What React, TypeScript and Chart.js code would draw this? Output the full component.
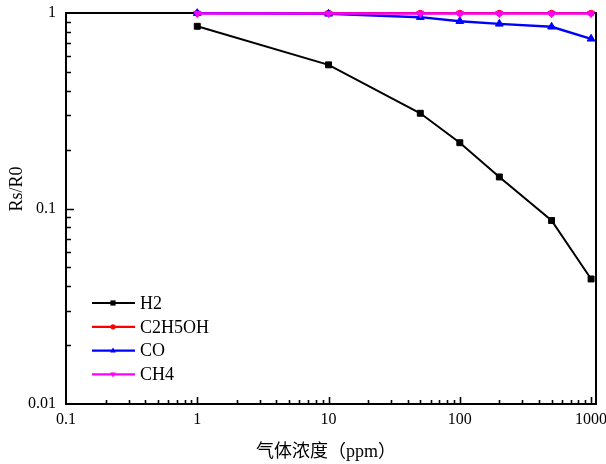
import React, { useEffect, useRef } from 'react';
import { Chart, registerables } from 'chart.js';

Chart.register(...registerables);

// ---- data ----
const concentrations = [1, 10, 50, 100, 200, 500, 1000];
const h2Values = [0.855, 0.543, 0.307, 0.217, 0.145, 0.0868, 0.0436];
const c2h5ohValues = [0.997, 0.997, 0.997, 0.997, 0.997, 0.997, 0.997];
const coValues = [0.998, 0.99, 0.952, 0.908, 0.88, 0.85, 0.738];
const ch4Values = [0.995, 0.995, 0.995, 0.995, 0.995, 0.995, 0.995];
const seriesNames = ['H2', 'C2H5OH', 'CO', 'CH4'];
const xTickLabels = ['0.1', '1', '10', '100', '1000'];
const yTickLabels = ['0.01', '0.1', '1'];
const xTitle = '气体浓度（ppm）';
const yTitle = 'Rs/R0';

const SERIF = '"Liberation Serif", "Times New Roman", "Noto Sans CJK SC", serif';

function significand(v: number) {
  const e = Math.floor(Math.log10(v) + 1e-9);
  return v / Math.pow(10, e);
}
function isNice(v: number) {
  const s = significand(v);
  return Math.abs(s - Math.round(s)) < 1e-6;
}
function isMajor(v: number) {
  const l = Math.log10(v);
  return Math.abs(l - Math.round(l)) < 1e-6;
}
function labelFor(v: number, labels: string[]) {
  const found = labels.find((l) => Math.abs(parseFloat(l) - v) < 1e-9 * Math.max(1, v));
  return found ?? '';
}

function drawMarker(ctx: CanvasRenderingContext2D, style: string, cx: number, cy: number, r: number, color: string) {
  ctx.fillStyle = color;
  ctx.beginPath();
  if (style === 'rect') {
    ctx.rect(cx - r, cy - r, 2 * r, 2 * r);
  } else if (style === 'circle') {
    ctx.arc(cx, cy, r, 0, Math.PI * 2);
  } else if (style === 'triangle') {
    ctx.moveTo(cx, cy - r * 1.2);
    ctx.lineTo(cx - r * 1.1, cy + r * 0.7);
    ctx.lineTo(cx + r * 1.1, cy + r * 0.7);
    ctx.closePath();
  } else if (style === 'triangleDown') {
    ctx.moveTo(cx, cy + r * 1.2);
    ctx.lineTo(cx - r * 1.1, cy - r * 0.7);
    ctx.lineTo(cx + r * 1.1, cy - r * 0.7);
    ctx.closePath();
  }
  ctx.fill();
}

const legendStyles = ['rect', 'circle', 'triangle', 'triangleDown'];

const framePlugin = {
  id: 'frameAndTicks',
  beforeDatasetsDraw(chart: any) {
    const { ctx, chartArea: a, scales } = chart;
    ctx.save();
    ctx.strokeStyle = '#000';
    ctx.lineWidth = 2;
    ctx.strokeRect(a.left, a.top, a.right - a.left, a.bottom - a.top);
    ctx.lineWidth = 1.6;
    ctx.beginPath();
    scales.x.ticks.forEach((t: any) => {
      const v = t.value;
      if (!isNice(v) || v <= scales.x.min || v > scales.x.max) return;
      const px = Math.round(scales.x.getPixelForValue(v)) + 0.5;
      const len = isMajor(v) ? 7 : 4;
      ctx.moveTo(px, a.bottom);
      ctx.lineTo(px, a.bottom - len);
    });
    scales.y.ticks.forEach((t: any) => {
      const v = t.value;
      if (!isNice(v) || v <= scales.y.min || v >= scales.y.max) return;
      const py = Math.round(scales.y.getPixelForValue(v)) + 0.5;
      const len = isMajor(v) ? 8 : 5;
      ctx.moveTo(a.left, py);
      ctx.lineTo(a.left + len, py);
    });
    ctx.stroke();
    ctx.restore();
  },
  afterDatasetsDraw(chart: any) {
    const { ctx } = chart;
    ctx.save();
    // legend
    const datasets = chart.data.datasets;
    ctx.font = `18px ${SERIF}`;
    ctx.textBaseline = 'middle';
    ctx.textAlign = 'left';
    datasets.forEach((ds: any, i: number) => {
      const y = 303 + i * 23.8;
      ctx.strokeStyle = ds.borderColor;
      ctx.lineWidth = 2.2;
      ctx.beginPath();
      ctx.moveTo(92, y);
      ctx.lineTo(135, y);
      ctx.stroke();
      drawMarker(ctx, legendStyles[i], 113, y, 2.6, ds.borderColor);
      ctx.fillStyle = '#000';
      ctx.fillText(ds.label, 140, y + 1);
    });
    // axis titles
    ctx.fillStyle = '#000';
    ctx.textAlign = 'center';
    ctx.font = `18px ${SERIF}`;
    ctx.fillText(xTitle, 326, 452);
    ctx.save();
    ctx.translate(17, 189);
    ctx.rotate(-Math.PI / 2);
    ctx.fillText(yTitle, 0, 0);
    ctx.restore();
    ctx.restore();
  },
};

export default function App() {
  const ref = useRef<HTMLCanvasElement | null>(null);

  useEffect(() => {
    document.body.style.margin = '0';
    const canvas = ref.current;
    if (!canvas) return;
    const mk = (label: string, values: number[], color: string, style: string, radius: number, rotation: number, order: number, width: number) => ({
      label,
      data: concentrations.map((x, i) => ({ x, y: values[i] })),
      borderColor: color,
      backgroundColor: color,
      pointBackgroundColor: color,
      pointBorderColor: color,
      pointStyle: style,
      pointRadius: radius,
      pointRotation: rotation,
      pointBorderWidth: 1,
      borderWidth: width,
      tension: 0,
      clip: false,
      order,
    });
    const chart = new Chart(canvas, {
      type: 'line',
      data: {
        datasets: [
          mk(seriesNames[0], h2Values, '#000000', 'rect', 4.2, 0, 3, 2),
          mk(seriesNames[1], c2h5ohValues, '#ff0000', 'circle', 3, 0, 2, 2.2),
          mk(seriesNames[2], coValues, '#0000ff', 'triangle', 4.5, 0, 1, 2.4),
          mk(seriesNames[3], ch4Values, '#ff00ff', 'triangle', 4.2, 180, 0, 2.4),
        ] as any,
      },
      options: {
        animation: false,
        responsive: false,
        maintainAspectRatio: false,
        layout: { padding: { top: 13, right: 10, left: 0, bottom: 0 } },
        plugins: { legend: { display: false }, tooltip: { enabled: false } },
        scales: {
          x: {
            type: 'logarithmic',
            min: 0.1,
            max: 1090,
            grid: { display: false, drawTicks: false },
            border: { display: false },
            ticks: {
              autoSkip: false,
              maxRotation: 0,
              minRotation: 0,
              padding: 6,
              color: '#000',
              font: { family: SERIF, size: 16 },
              callback: (v: any) => labelFor(Number(v), xTickLabels),
            },
            afterFit: (s: any) => {
              s.height = 60;
              s.paddingLeft = 0;
              s.paddingRight = 0;
            },
          },
          y: {
            type: 'logarithmic',
            min: 0.01,
            max: 1,
            grid: { display: false, drawTicks: false },
            border: { display: false },
            ticks: {
              autoSkip: false,
              padding: 10,
              color: '#000',
              font: { family: SERIF, size: 16 },
              callback: (v: any) => labelFor(Number(v), yTickLabels),
            },
            afterFit: (s: any) => {
              s.width = 66;
              s.paddingTop = 0;
              s.paddingBottom = 0;
            },
          },
        },
      } as any,
      plugins: [framePlugin],
    });
    return () => chart.destroy();
  }, []);

  return (
    <div style={{ width: 606, height: 464, background: '#fff' }}>
      <canvas ref={ref} width={606} height={464} style={{ display: 'block', width: 606, height: 464 }} />
    </div>
  );
}
